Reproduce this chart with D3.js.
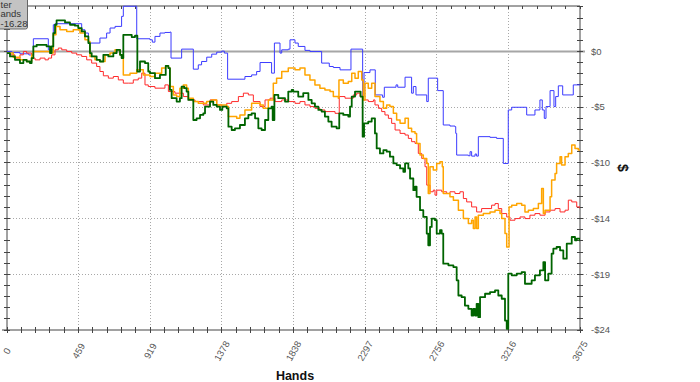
<!DOCTYPE html>
<html><head><meta charset="utf-8">
<script src="https://cdn.jsdelivr.net/npm/d3@7"></script>
<style>body{margin:0;background:#fff}svg{display:block}</style>
</head><body>
<svg id="c" width="700" height="382"></svg>
<script>
const handsMax = 3675;
const yMin = -23.9, yMax = 3.9;
const xTickLabels = ["0","459","919","1378","1838","2297","2756","3216","3675"];
const yTickValues = [0,-4.78,-9.56,-14.34,-19.12,-23.9];
const yTickLabels = ["$0","-$5","-$10","-$14","-$19","-$24"];
const legendLines = ["ter","ands","-16.28"];

const seriesBlue = [[0,0],[30,-0.1],[83,-0.2],[140,-0.3],[169,1.09],[265,0.14],[297,2.29],[308,2.38],[468,2.38],[479,1.86],[500,1.58],[522,0.72],[596,1.15],[639,1.58],[661,2.01],[693,2.15],[735,3.01],[746,3.88],[832,1.09],
[917,1.0],[932,0.8],[949,1.29],[981,1.58],[1013,1.63],[1045,1.66],[1052,-0.57],[1120,0.2],[1195,-1.52],[1227,-1.15],[1248,-0.86],[1281,-0.49],[1313,-0.23],[1345,-0.06],[1377,0.03],[1394,-0.14],[1415,-2.38],[1526,-2.15],[1569,-2.01],[1601,-1.72],[1623,-0.95],[1697,-1.86],[1715,0.72],[1751,-0.14],[1762,0.14],[1804,0.2],[1815,1.0],
[1847,0.72],[1868,0.43],[1911,0.09],[1943,0.0],[2018,-1.0],[2067,-1.29],[2093,-1.38],[2136,-1.58],[2206,0.2],[2281,-3.87],[2290,-1.81],[2328,-1.58],[2362,-3.73],[2409,-3.93],[2420,-3.07],[2495,-2.87],[2506,-3.07],[2553,-2.21],[2595,-3.58],[2606,-3.01],[2623,-3.73],[2692,-4.3],[2702,-2.29],
[2762,-3.36],[2798,-6.31],[2841,-6.4],[2873,-6.45],[2878,-7.03],[2884,-8.89],[2959,-8.95],[2970,-8.6],[2980,-8.98],[3002,-8.8],[3012,-8.98],[3023,-7.31],[3098,-7.37],[3140,-7.46],[3183,-9.61],[3215,-5.02],[3237,-4.79],[3333,-5.45],[3386,-5.02],[3418,-4.16],[3433,-5.02],[3446,-5.74],[3457,-4.73],[3483,-3.36],[3508,-4.73],[3519,-3.87],[3536,-2.95],[3564,-3.73],[3632,-2.87],[3675,-2.87]];

const seriesRed = [[0,-0.14],[19,-0.29],[51,-0.57],[83,-0.29],[105,0.0],[126,-0.14],[158,-0.57],[180,-0.72],[212,-0.57],[244,-0.72],[265,-0.57],[286,-0.29],[308,0.14],[329,0.29],[351,0.14],[383,0.0],[415,-0.14],[447,-0.29],[479,-0.43],[511,-0.72],[543,-1.0],[575,-1.29],[596,-1.72],[618,-2.09],[650,-2.29],[682,-2.15],[714,-2.44],[746,-2.72],[778,-2.72],[810,-2.44],[842,-2.29],[864,-1.86],[885,-2.87],[906,-3.01],
[949,-3.15],[1013,-2.87],[1035,-3.44],[1077,-3.58],[1131,-3.87],[1163,-4.16],[1206,-4.3],[1259,-4.59],[1302,-4.16],[1345,-4.59],[1377,-4.73],[1409,-4.45],[1441,-4.3],[1484,-3.87],[1516,-3.58],[1548,-3.73],[1580,-4.3],[1623,-4.73],[1655,-4.16],[1687,-4.01],[1719,-4.3],[1762,-4.16],[1804,-4.3],
[1847,-4.45],[1879,-4.3],[1911,-4.59],[1943,-4.73],[1975,-4.88],[2007,-5.02],[2039,-5.16],[2104,-5.31],[2131,-3.87],[2168,-4.01],[2221,-3.73],[2243,-3.58],[2264,-3.87],[2285,-4.16],[2317,-4.3],[2350,-4.16],[2360,-4.59],[2382,-4.88],[2403,-5.16],[2424,-5.45],[2446,-5.74],[2467,-6.17],[2489,-6.74],[2521,-7.03],[2553,-7.17],[2574,-7.46],[2595,-7.74],[2617,-7.89],[2638,-8.75],[2660,-9.18],[2681,-9.89],[2692,-11.47],[2713,-12.04],[2734,-11.9],
[2745,-12.33],[2756,-11.9],[2788,-12.04],[2820,-12.19],[2841,-12.04],[2873,-12.19],[2905,-12.04],[2927,-12.62],[2948,-12.91],[2980,-13.34],[3012,-13.77],[3044,-13.48],[3108,-13.19],[3130,-13.05],[3151,-13.48],[3173,-13.91],[3205,-14.2],[3226,-14.48],[3258,-14.34],[3290,-14.2],[3322,-14.34],[3354,-14.05],[3386,-13.91],[3418,-14.05],[3451,-13.77],[3483,-13.62],[3515,-13.48],[3547,-13.77],[3579,-13.62],[3600,-12.76],[3622,-12.91],[3654,-13.34],[3675,-13.48]];

const seriesOrange = [[0,-0.14],[40,-0.5],[83,-0.72],[126,-0.86],[158,-0.3],[169,0.0],[233,0.0],[276,-0.14],[297,1.43],[314,2.15],[340,1.86],[383,1.72],[425,1.86],[468,1.58],[500,1.0],[522,0.86],[532,-0.43],[564,-0.72],[596,-0.86],[629,-0.29],[661,-0.14],[693,0.14],[725,-0.29],[746,-2.01],[789,-1.86],[832,-1.58],[874,-2.01],
[917,-2.15],[949,-1.86],[992,-1.43],[1018,-1.23],[1035,-1.43],[1045,-3.01],[1067,-3.73],[1088,-3.87],[1109,-3.15],[1131,-2.87],[1152,-3.15],[1163,-4.01],[1195,-4.3],[1227,-4.45],[1281,-4.3],[1313,-4.16],[1345,-4.59],[1409,-4.73],[1420,-5.59],[1473,-5.74],[1494,-5.45],[1526,-5.02],[1569,-4.45],[1623,-4.59],[1644,-4.88],[1676,-4.16],[1708,-2.72],[1729,-2.29],[1762,-1.72],[1804,-1.43],
[1847,-1.58],[1879,-1.43],[1911,-2.01],[1943,-2.44],[1975,-2.87],[2007,-3.15],[2039,-3.3],[2072,-3.44],[2093,-3.87],[2125,-4.01],[2129,-2.44],[2157,-2.72],[2189,-2.58],[2211,-1.86],[2232,-2.29],[2253,-1.72],[2275,-2.44],[2285,-4.16],[2296,-2.72],[2317,-3.15],[2339,-2.72],[2360,-3.87],[2392,-4.3],[2414,-4.88],[2435,-4.59],[2456,-4.73],[2478,-5.31],[2499,-5.88],[2521,-6.17],[2553,-5.74],[2574,-6.6],[2595,-6.88],[2617,-7.03],[2627,-7.89],[2649,-8.89],[2670,-9.18],[2692,-9.61],[2702,-12.19],[2713,-9.89],[2734,-10.18],
[2756,-9.61],[2777,-9.46],[2792,-9.89],[2798,-12.19],[2841,-12.47],[2863,-12.76],[2895,-13.62],[2927,-14.34],[2959,-14.77],[2980,-14.48],[2991,-15.2],[3002,-14.2],[3012,-15.2],[3023,-14.05],[3055,-13.91],[3098,-13.77],[3130,-13.62],[3162,-13.91],[3173,-14.34],[3194,-15.63],[3205,-16.78],[3220,-13.34],[3237,-13.19],[3269,-13.05],[3301,-13.19],[3322,-13.77],[3344,-13.62],[3376,-13.48],[3408,-13.05],[3429,-11.76],[3440,-13.91],[3451,-13.62],[3483,-12.47],[3493,-11.04],[3515,-10.47],[3525,-9.61],[3547,-9.03],[3557,-9.75],[3579,-9.03],[3600,-8.75],[3622,-8.03],[3643,-8.32],[3664,-8.46],[3675,-8.46]];

const seriesGreen = [[0,-0.14],[19,-0.43],[51,-0.72],[83,-1.0],[105,-0.72],[126,-0.86],[147,-1.0],[158,-0.57],[169,0.43],[190,0.57],[254,0.43],[276,-0.14],[286,0.43],[297,1.58],[308,2.29],[318,2.67],[372,2.49],[404,2.29],[436,2.21],[457,2.01],[479,1.72],[500,1.29],[522,0.72],[532,-0.14],[543,-0.43],[575,-0.72],[596,-0.86],[618,-0.29],[650,-0.43],[682,-0.14],[703,0.14],[725,-0.29],[735,-0.57],[746,1.43],[800,1.23],[821,1.35],[836,-1.72],[853,-0.86],[885,-1.0],[906,-1.72],
[917,-1.86],[949,-2.29],[981,-2.01],[1018,-1.23],[1035,-1.43],[1045,-3.3],[1056,-4.01],[1088,-4.3],[1109,-4.01],[1120,-3.01],[1137,-3.15],[1152,-3.44],[1163,-4.16],[1195,-5.88],[1216,-5.74],[1238,-5.45],[1259,-5.31],[1270,-4.73],[1302,-4.3],[1323,-4.59],[1345,-4.73],[1366,-5.02],[1381,-4.73],[1409,-4.88],[1420,-6.45],[1441,-6.74],[1462,-6.6],[1494,-6.31],[1526,-5.74],[1548,-5.45],[1569,-5.31],[1591,-5.74],[1612,-6.6],[1633,-6.74],[1655,-5.88],[1676,-4.88],[1697,-4.73],[1704,-5.88],[1715,-3.73],[1740,-4.01],[1783,-4.3],[1804,-3.44],[1826,-3.3],
[1836,-3.44],[1868,-3.87],[1900,-3.58],[1933,-4.16],[1954,-4.45],[1975,-4.73],[1997,-5.02],[2018,-5.16],[2039,-5.59],[2061,-6.02],[2082,-6.45],[2114,-6.6],[2131,-5.31],[2157,-5.45],[2189,-5.59],[2200,-4.73],[2211,-3.87],[2232,-3.44],[2253,-3.44],[2268,-3.87],[2281,-7.31],[2290,-6.17],[2317,-6.02],[2339,-5.74],[2360,-7.03],[2371,-8.32],[2392,-8.75],[2414,-8.46],[2435,-8.6],[2456,-9.03],[2478,-9.61],[2499,-9.75],[2521,-10.04],[2542,-10.32],[2553,-9.61],[2574,-10.04],[2585,-10.9],[2606,-11.9],[2617,-11.61],[2627,-12.47],[2649,-13.62],[2670,-14.2],[2692,-15.63],[2702,-16.63],[2713,-15.06],[2724,-14.34],[2745,-14.48],
[2756,-15.63],[2777,-15.34],[2788,-15.63],[2798,-18.21],[2831,-18.35],[2863,-18.5],[2884,-19.64],[2895,-20.94],[2916,-21.08],[2937,-21.8],[2959,-22.08],[2980,-22.66],[2991,-22.08],[3002,-22.66],[3012,-21.65],[3023,-22.8],[3034,-21.08],[3066,-20.79],[3098,-20.65],[3130,-20.5],[3151,-20.94],[3173,-21.22],[3194,-23.09],[3205,-23.8],[3215,-19.07],[3237,-19.21],[3269,-19.07],[3301,-18.93],[3322,-19.93],[3365,-19.64],[3386,-19.21],[3418,-18.78],[3440,-18.07],[3451,-19.64],[3472,-19.07],[3493,-17.35],[3504,-16.92],[3525,-16.78],[3547,-17.06],[3568,-17.78],[3590,-16.49],[3622,-15.92],[3643,-16.2],[3654,-16.06],[3675,-16.28]];

const svg = d3.select("#c");
const x = d3.scaleLinear().domain([0, handsMax]).range([7, 580]);
const y = d3.scaleLinear().domain([yMin, yMax]).range([330, 6]);
const font = "'Liberation Sans', Arial, sans-serif";

const xMajor = xTickLabels.map(Number);
const xMinor = d3.range(0, 41).map(i => i * handsMax / 40);
const yMinor = d3.range(0, 30).map(i => yMin + i * 0.956).filter(v => v <= yMax + 0.01);

// grid
svg.append("g").selectAll("line").data(xMajor.slice(1, -1)).join("line")
  .attr("x1", d => x(d)).attr("x2", d => x(d)).attr("y1", y(yMax)).attr("y2", y(yMin))
  .attr("stroke", "#a8a8a8").attr("stroke-dasharray", "1,2").attr("shape-rendering","crispEdges");
svg.append("g").selectAll("line").data(yTickValues.slice(1, -1)).join("line")
  .attr("x1", x(0)).attr("x2", 588).attr("y1", d => y(d)).attr("y2", d => y(d))
  .attr("stroke", "#a8a8a8").attr("stroke-dasharray", "1,2").attr("shape-rendering","crispEdges");

// zero line
svg.append("line").attr("x1", 0).attr("x2", 585).attr("y1", y(0)).attr("y2", y(0))
  .attr("stroke", "#a6a6a6").attr("stroke-width", 2);

// frame
const axisCol = "#444";
svg.append("line").attr("x1", x(0)).attr("x2", x(handsMax)).attr("y1", y(yMax)).attr("y2", y(yMax)).attr("stroke", axisCol);
svg.append("line").attr("x1", 2).attr("x2", 583).attr("y1", y(yMin)).attr("y2", y(yMin)).attr("stroke", axisCol);
svg.append("line").attr("x1", x(0)).attr("x2", x(0)).attr("y1", y(yMax)).attr("y2", y(yMin)).attr("stroke", axisCol);
svg.append("line").attr("x1", x(handsMax)).attr("x2", x(handsMax)).attr("y1", y(yMax)).attr("y2", y(yMin)).attr("stroke", axisCol);

// ticks
svg.append("g").selectAll("line").data(xMinor).join("line")
  .attr("x1", d => x(d)).attr("x2", d => x(d)).attr("y1", y(yMin) - 3).attr("y2", y(yMin) + 3)
  .attr("stroke", axisCol).attr("shape-rendering","crispEdges");
svg.append("g").selectAll("line").data(xMinor).join("line")
  .attr("x1", d => x(d)).attr("x2", d => x(d)).attr("y1", y(yMax)).attr("y2", y(yMax) + 3)
  .attr("stroke", axisCol).attr("shape-rendering","crispEdges");
svg.append("g").selectAll("line").data(yMinor).join("line")
  .attr("x1", x(handsMax) - 3).attr("x2", x(handsMax) + 3).attr("y1", d => y(d)).attr("y2", d => y(d))
  .attr("stroke", axisCol).attr("shape-rendering","crispEdges");
svg.append("g").selectAll("line").data(yMinor).join("line")
  .attr("x1", x(0) - 3).attr("x2", x(0) + 3).attr("y1", d => y(d)).attr("y2", d => y(d))
  .attr("stroke", axisCol).attr("shape-rendering","crispEdges");

// tick labels
svg.append("g").selectAll("text").data(xTickLabels).join("text")
  .attr("transform", d => `translate(${x(+d)},351) rotate(-60)`)
  .attr("text-anchor", "middle").attr("dy", "0.35em")
  .attr("font-family", font).attr("font-size", 9.5).attr("fill", "#555").text(d => d);
svg.append("g").selectAll("text").data(yTickValues).join("text")
  .attr("x", 591).attr("y", d => y(d)).attr("dy", "0.35em")
  .attr("font-family", font).attr("font-size", 9.5).attr("fill", "#555")
  .text((d, i) => yTickLabels[i]);

// axis titles
svg.append("text").attr("x", 295).attr("y", 380).attr("text-anchor", "middle")
  .attr("font-family", font).attr("font-weight", "bold").attr("font-size", 12.5).attr("fill", "#111").text("Hands");
svg.append("text").attr("transform", "translate(623,168) rotate(90)").attr("text-anchor", "middle").attr("dy","0.35em")
  .attr("font-family", font).attr("font-weight", "bold").attr("font-size", 14).attr("fill", "#111").text("$");

// series
svg.append("clipPath").attr("id", "pc").append("rect")
  .attr("x", x(0)).attr("y", y(yMax) - 1).attr("width", x(handsMax) - x(0)).attr("height", y(yMin) - y(yMax) + 2);
const line = d3.line().x(d => x(d[0])).y(d => y(d[1])).curve(d3.curveStepAfter);
const plot = svg.append("g").attr("clip-path", "url(#pc)");
[[seriesBlue, "#3b3bff", 1], [seriesRed, "#ff2a2a", 1], [seriesOrange, "#ffa500", 1.5], [seriesGreen, "#006400", 1.8]]
  .forEach(([data, col, w]) => {
    plot.append("path").datum(data).attr("d", line).attr("fill", "none")
      .attr("stroke", col).attr("stroke-width", w).attr("stroke-linejoin", "round");
  });

// info box
svg.append("rect").attr("x", -5).attr("y", -5).attr("width", 32.5).attr("height", 34)
  .attr("fill", "#c3c3c3").attr("stroke", "#666").attr("rx", 2);
svg.append("g").selectAll("text").data(legendLines).join("text")
  .attr("x", 0.5).attr("y", (d, i) => 7.5 + i * 9.5)
  .attr("font-family", font).attr("font-size", 9.5).attr("fill", "#333").text(d => d);
</script>
</body></html>
